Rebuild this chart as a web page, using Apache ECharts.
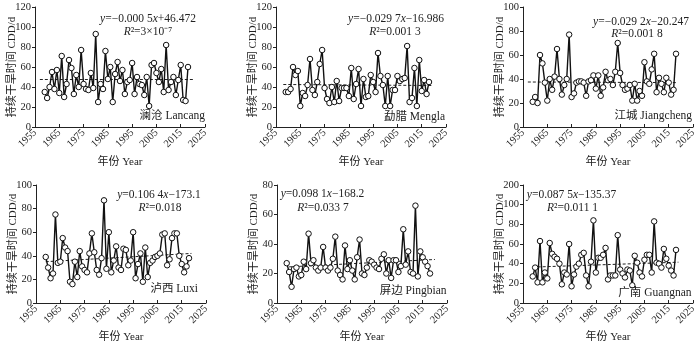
<!DOCTYPE html>
<html><head><meta charset="utf-8">
<script src="https://cdn.jsdelivr.net/npm/echarts@6/dist/echarts.min.js"></script>
<style>html,body{margin:0;padding:0;background:#fff}#c{width:700px;height:345px}</style>
</head><body><div id="c"></div>
<script>
// ---- data ----
const firstYear = 1959;
const xBaseYear = 1955;
const xTickLabels = ['1955','1965','1975','1985','1995','2005','2015','2025'];
const yTicks120 = ['0','20','40','60','80','100','120'];
const yTicks100 = ['0','20','40','60','80','100'];
const yTicks80 = ['0','20','40','60','80'];
const yTicksGuangnan = ['0','20','40','60','80','100','200'];

const lancang = [35,29,40,55,38,57,34,71,30,43,67,59,33,52,40,77,43,38,37,54,39,93,25,43,38,76,48,60,25,53,65,46,57,33,45,47,64,33,50,43,42,32,50,21,62,64,54,45,58,35,82,37,45,50,32,47,62,27,26,60];
const mengla = [35,35,38,60,52,56,21,34,31,42,68,37,32,45,63,77,39,28,24,40,25,46,26,39,39,39,31,59,28,43,58,21,48,30,31,52,45,35,74,51,42,21,51,21,37,37,51,46,48,49,81,25,29,59,21,67,36,47,33,45];
const jiangcheng = [21,25,20,60,53,37,22,40,31,42,65,40,27,35,40,77,25,28,37,38,38,37,26,38,39,43,32,43,26,33,46,39,40,35,46,70,45,35,31,32,35,22,36,22,30,26,54,38,36,48,61,29,41,36,29,41,37,27,31,61];
const luxi = [39,30,21,25,75,34,35,55,47,44,18,16,35,22,44,31,28,26,42,59,43,28,24,38,87,29,60,26,36,48,30,28,46,45,32,36,60,21,33,42,18,47,22,34,36,39,40,42,58,59,32,37,55,59,59,40,33,26,31,38];
const pingbian = [27,21,11,23,24,18,19,28,23,47,27,29,24,22,24,38,24,22,24,30,45,22,19,16,39,23,29,22,16,31,43,20,19,24,29,28,26,24,23,30,33,20,29,17,29,29,21,25,50,26,35,21,20,66,18,35,31,28,25,20];
const guangnan = [27,36,21,63,21,31,25,61,50,47,45,40,19,31,29,60,17,29,37,40,49,51,28,17,42,84,31,46,46,49,56,24,28,28,28,69,34,30,26,34,33,18,48,41,31,27,44,49,49,31,83,41,40,36,55,45,38,33,28,54];

// trend lines: [startYear, endYear] and [startValue, endValue]
const trendYearsLancang = [1957, 2020];
const trendLancang = [47.5, 47.5];
const trendYearsMengla = [1958, 2019];
const trendMengla = [42.5, 41.5];
const trendYearsJiangcheng = [1957, 2018];
const trendJiangcheng = [37.5, 37];
const trendYearsLuxi = [1959, 2019];
const trendLuxi = [35, 42];
const trendYearsPingbian = [1960, 2020];
const trendPingbian = [24.5, 29.5];
const trendYearsGuangnan = [1959, 2019];
const trendGuangnan = [36.5, 41.5];

const stationNames = ['澜沧 Lancang','勐腊 Mengla','江城 Jiangcheng','泸西 Luxi','屏边 Pingbian','广南 Guangnan'];
const equations = [
  '{i|y}=−0.000 5{i|x}+46.472',
  '{i|y}=−0.029 7{i|x}−16.986',
  '{i|y}=−0.029 2{i|x}−20.247',
  '{i|y}=0.106 4{i|x}−173.1',
  '{i|y}=0.098 1{i|x}−168.2',
  '{i|y}=0.087 5{i|x}−135.37'
];
const r2Texts = [
  '{i|R}²=3×10⁻⁷',
  '{i|R}²=0.001 3',
  '{i|R}²=0.001 8',
  '{i|R}²=0.018',
  '{i|R}²=0.033 7',
  '{i|R}²=0.011 1'
];
const yAxisTitle = '持续干旱时间 CDD/d';
const xAxisTitle = '年份 Year';

// ---- layout ----
const FONT = "'Liberation Serif','Noto Sans CJK SC',serif";
const panels = [
  {vals: lancang, ty: trendYearsLancang, tv: trendLancang, ymax: 120, yl: yTicks120,
   grid: {left: 35, top: 7, width: 170, height: 120}, eq: [148, 19, 148, 31.5], st: [205, 116]},
  {vals: mengla, ty: trendYearsMengla, tv: trendMengla, ymax: 120, yl: yTicks120,
   grid: {left: 276, top: 7, width: 170, height: 120}, eq: [396, 19, 395, 31.5], st: [445, 116.5]},
  {vals: jiangcheng, ty: trendYearsJiangcheng, tv: trendJiangcheng, ymax: 100, yl: yTicks100,
   grid: {left: 523, top: 7, width: 170, height: 120}, eq: [641, 21.5, 637, 34], st: [692, 116]},
  {vals: luxi, ty: trendYearsLuxi, tv: trendLuxi, ymax: 100, yl: yTicks100,
   grid: {left: 36, top: 185, width: 170, height: 118}, eq: [159, 195, 160, 208], st: [198, 289]},
  {vals: pingbian, ty: trendYearsPingbian, tv: trendPingbian, ymax: 80, yl: yTicks80,
   grid: {left: 277, top: 185, width: 170, height: 118}, eq: [322.5, 194, 323, 207.5], st: [446.5, 291]},
  {vals: guangnan, ty: trendYearsGuangnan, tv: trendGuangnan, ymax: 120, yl: yTicksGuangnan,
   grid: {left: 523, top: 185, width: 170, height: 118}, eq: [571.5, 195, 572.5, 207.5], st: [691.5, 292.5]}
];

const richItalic = {i: {fontStyle: 'italic', fontFamily: FONT, fontSize: 11.5, fill: '#222'}};
const grids = [], xAxes = [], yAxes = [], series = [], graphics = [];
panels.forEach((p, k) => {
  grids.push(Object.assign({containLabel: false}, p.grid));
  xAxes.push({
    gridIndex: k, type: 'value', min: 0, max: 70, interval: 10,
    name: xAxisTitle, nameLocation: 'middle', nameGap: k < 3 ? 30 : 29, nameMoveOverlap: false,
    nameTextStyle: {fontFamily: FONT, fontSize: 11, color: '#222'},
    axisLine: {show: true, onZero: false, lineStyle: {color: '#222', width: 1}},
    axisTick: {show: true, inside: true, length: 3, lineStyle: {color: '#222'}},
    axisLabel: {rotate: 45, margin: 4, fontFamily: FONT, fontSize: 10.5, color: '#222',
      formatter: v => xTickLabels[Math.round(v / 10)]},
    splitLine: {show: false}
  });
  yAxes.push({
    gridIndex: k, type: 'value', min: 0, max: p.ymax, interval: 20,
    name: yAxisTitle, nameLocation: 'middle', nameRotate: 90, nameGap: 17, nameMoveOverlap: false,
    nameTextStyle: {fontFamily: FONT, fontSize: 11, color: '#222'},
    axisLine: {show: true, lineStyle: {color: '#222', width: 1}},
    axisTick: {show: true, inside: false, length: 3, lineStyle: {color: '#222'}},
    axisLabel: {margin: 4, fontFamily: FONT, fontSize: 10.5, color: '#222',
      formatter: v => p.yl[Math.round(v / 20)]},
    splitLine: {show: false}
  });
  series.push({
    type: 'line', xAxisIndex: k, yAxisIndex: k, silent: true, animation: false,
    data: p.ty.map((y, j) => [y - xBaseYear, p.tv[j]]),
    symbol: 'none', lineStyle: {color: '#222', width: 1, type: [3, 2]}, z: 2
  });
  series.push({
    type: 'line', xAxisIndex: k, yAxisIndex: k, silent: true, animation: false,
    data: p.vals.map((v, i) => [firstYear + i - xBaseYear, v]),
    symbol: 'circle', symbolSize: 5.5, showSymbol: true,
    lineStyle: {color: '#111', width: 1.4},
    itemStyle: {color: '#fff', borderColor: '#111', borderWidth: 1}, z: 3
  });
  graphics.push({type: 'text', silent: true, z: 10, style: {x: p.eq[0], y: p.eq[1], text: equations[k],
    rich: richItalic, fontFamily: FONT, fontSize: 11.5, fill: '#222', align: 'center', verticalAlign: 'middle'}});
  graphics.push({type: 'text', silent: true, z: 10, style: {x: p.eq[2], y: p.eq[3], text: r2Texts[k],
    rich: richItalic, fontFamily: FONT, fontSize: 11.5, fill: '#222', align: 'center', verticalAlign: 'middle'}});
  graphics.push({type: 'text', silent: true, z: 10, style: {x: p.st[0], y: p.st[1], text: stationNames[k],
    fontFamily: FONT, fontSize: 11.5, fill: '#222', align: 'right', verticalAlign: 'middle'}});
});

const chart = echarts.init(document.getElementById('c'), null, {renderer: 'canvas'});
chart.setOption({
  animation: false,
  backgroundColor: '#fff',
  grid: grids, xAxis: xAxes, yAxis: yAxes, series: series, graphic: graphics
});
</script>
</body></html>
